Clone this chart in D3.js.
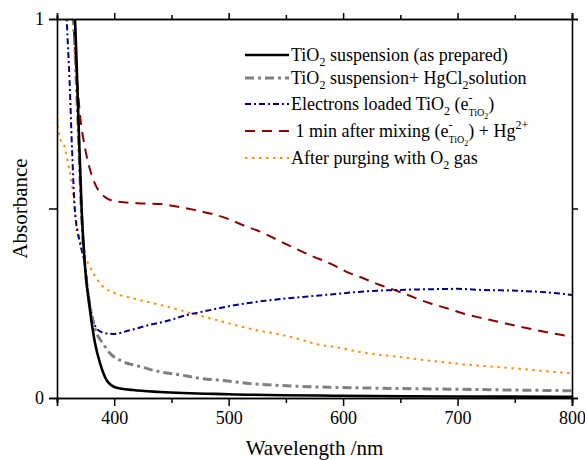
<!DOCTYPE html>
<html>
<head>
<meta charset="utf-8">
<script src="https://cdn.jsdelivr.net/npm/d3@7"></script>
<style>
  body { margin: 0; background: #fff; }
  svg { display: block; font-family: "Liberation Serif", "Times New Roman", serif; }
  .legend text { white-space: pre; }
</style>
</head>
<body>
<svg></svg>
<script>
const width = 585;
const height = 460;
const margin = { top: 19, right: 13, bottom: 62, left: 57 };

// Absorbance spectra: [wavelength nm, absorbance]
const asPrepared = [[364, 1.06], [365.7, 0.997], [368.6, 0.747], [371.6, 0.492], [374.5, 0.346], [378.8, 0.232],
  [383.2, 0.145], [387.6, 0.092], [393.4, 0.047], [402.2, 0.027], [416.4, 0.021], [440, 0.016], [500, 0.010],
  [600, 0.006], [700, 0.004], [800, 0.003]];
const withHgCl2 = [[362.5, 1.06], [364.2, 1.0], [368, 0.75], [371.5, 0.48], [375, 0.33], [378.8, 0.245],
  [381.6, 0.2], [385, 0.168], [389, 0.149], [396.3, 0.118], [407.9, 0.096], [422.5, 0.083], [440, 0.069],
  [457.5, 0.061], [475, 0.052], [495.3, 0.046], [515.8, 0.039], [539, 0.034], [568.2, 0.030], [594.4, 0.028],
  [650, 0.025], [700, 0.023], [750, 0.021], [800, 0.019]];
const electronsLoaded = [[357.5, 1.06], [358.6, 0.99], [361, 0.835], [363.1, 0.66], [365.7, 0.492], [370, 0.41],
  [374.5, 0.35], [378, 0.26], [385, 0.182], [390.5, 0.172], [399.2, 0.169], [413.8, 0.179], [431.3, 0.193],
  [445.9, 0.203], [463.3, 0.219], [480.8, 0.230], [498.3, 0.241], [515.8, 0.250], [539, 0.259], [562.3, 0.266],
  [591.4, 0.274], [618, 0.281], [647, 0.285], [676, 0.287], [700, 0.288], [722, 0.285], [751.7, 0.283],
  [781, 0.278], [800, 0.272]];
const afterMixing = [[363, 1.06], [365.7, 0.923], [370.1, 0.747], [374.5, 0.66], [380.3, 0.588], [386.1, 0.548],
  [392, 0.530], [399.2, 0.520], [420, 0.514], [440, 0.512], [454.6, 0.505], [469, 0.497], [483.7, 0.487],
  [498.3, 0.474], [512.5, 0.456], [527.4, 0.439], [542, 0.418], [556.5, 0.397], [574, 0.373], [588.5, 0.355],
  [603, 0.333], [617.6, 0.316], [632.2, 0.298], [646.8, 0.283], [661.3, 0.266], [675.9, 0.250], [690.5, 0.237],
  [705, 0.223], [722.5, 0.210], [737.1, 0.200], [751.7, 0.190], [769.2, 0.179], [783.7, 0.170], [800, 0.162]];
const afterO2 = [[350, 0.83], [350.6, 0.72], [352.6, 0.686], [357, 0.66], [359.9, 0.615], [362.2, 0.58],
  [364.2, 0.536], [365.7, 0.492], [373, 0.39], [381.7, 0.33], [390, 0.295], [399.2, 0.278], [416.6, 0.263],
  [434, 0.250], [451.5, 0.237], [469, 0.222], [486.5, 0.208], [504, 0.194], [521.5, 0.181], [542, 0.169],
  [559.5, 0.157], [577, 0.142], [594.4, 0.134], [611.9, 0.123], [629.4, 0.115], [646.8, 0.109], [665.7, 0.102],
  [683.2, 0.096], [702, 0.090], [719.6, 0.085], [737.1, 0.081], [754.6, 0.077], [772, 0.072], [791, 0.067],
  [800, 0.065]];

const xMajor = [400, 500, 600, 700, 800];
const xMinor = [350, 450, 550, 650, 750];
const yTicks = [0, 0.5, 1];
const yLabels = { 0: "0", 1: "1" };

// legend text: [text, "n" normal | "sub" | "sup" | "ssub" (sub under a sup) | "s2" (sub of sub)]
const series = [
  { data: asPrepared, color: "#000000", width: 2.6, dash: null,
    label: [["TiO", "n"], ["2", "sub"], [" suspension (as prepared)", "n"]] },
  { data: withHgCl2, color: "#808080", width: 3, dash: "9,4,3,4",
    label: [["TiO", "n"], ["2", "sub"], [" suspension+ HgCl", "n"], ["2", "sub"], ["solution", "n"]] },
  { data: electronsLoaded, color: "#00008b", width: 2, dash: "6,3,2,3",
    label: [["Electrons loaded TiO", "n"], ["2", "sub"], [" (e", "n"], ["-", "sup"], ["TiO", "ssub"], ["2", "s2"], [")", "n"]] },
  { data: afterMixing, color: "#8b0000", width: 2, dash: "10,7",
    label: [[" 1 min after mixing (e", "n"], ["-", "sup"], ["TiO", "ssub"], ["2", "s2"], [") + Hg", "n"], ["2+", "sup"]] },
  { data: afterO2, color: "#ff8c00", width: 2, dash: "2.5,4.5",
    label: [["After purging with O", "n"], ["2", "sub"], [" gas", "n"]] }
];

const svg = d3.select("svg").attr("width", width).attr("height", height);

const x = d3.scaleLinear().domain([350, 800]).range([margin.left, width - margin.right]);
const y = d3.scaleLinear().domain([0, 1]).range([height - margin.bottom, margin.top]);

svg.append("clipPath").attr("id", "plot-clip")
  .append("rect")
  .attr("x", margin.left).attr("y", margin.top)
  .attr("width", width - margin.left - margin.right)
  .attr("height", height - margin.top - margin.bottom);

const line = d3.line()
  .x(d => x(d[0]))
  .y(d => y(d[1]))
  .curve(d3.curveMonotoneX);

// draw in reverse so the black curve sits on top
svg.append("g").attr("clip-path", "url(#plot-clip)")
  .selectAll("path")
  .data(series.slice().reverse())
  .join("path")
  .attr("d", d => line(d.data))
  .attr("fill", "none")
  .attr("stroke", d => d.color)
  .attr("stroke-width", d => d.width)
  .attr("stroke-dasharray", d => d.dash);

// axes
const bottomAxis = svg.append("g").attr("transform", `translate(0,${height - margin.bottom})`);
bottomAxis.call(d3.axisBottom(x).tickValues(xMajor).tickSize(8).tickPadding(5).tickFormat(d3.format("d")));
bottomAxis.append("g").call(d3.axisBottom(x).tickValues(xMinor).tickSize(5).tickFormat(""));

const topAxis = svg.append("g").attr("transform", `translate(0,${margin.top})`);
topAxis.call(d3.axisTop(x).tickValues(xMajor).tickSize(6).tickFormat(""));
topAxis.append("g").call(d3.axisTop(x).tickValues(xMinor).tickSize(4).tickFormat(""));

svg.append("g").attr("transform", `translate(${margin.left},0)`)
  .call(d3.axisLeft(y).tickValues(yTicks).tickSize(8).tickPadding(5).tickFormat(d => yLabels[d] || ""));

svg.append("g").attr("transform", `translate(${width - margin.right},0)`)
  .call(d3.axisRight(y).tickValues(yTicks).tickSize(6).tickFormat(""));

svg.selectAll(".domain").attr("stroke", "#000").attr("stroke-width", 1.6);
svg.selectAll(".tick line").attr("stroke", "#000").attr("stroke-width", 1.5);
svg.selectAll(".tick text")
  .attr("font-family", "Liberation Serif, serif")
  .attr("font-size", 18)
  .attr("fill", "#000");

// axis titles
svg.append("text")
  .attr("x", (margin.left + width - margin.right) / 2)
  .attr("y", 455)
  .attr("text-anchor", "middle")
  .attr("font-size", 21)
  .text("Wavelength /nm");

svg.append("text")
  .attr("transform", `translate(27,${(margin.top + height - margin.bottom) / 2}) rotate(-90)`)
  .attr("text-anchor", "middle")
  .attr("font-size", 21)
  .text("Absorbance");

// legend
const legendRows = [55, 78, 104, 131, 158];
const legend = svg.append("g").attr("class", "legend");

const shift = { n: 0, sub: 5, sup: -8, ssub: 6, s2: 9 };
const size = { n: 18, sub: 12, sup: 12, ssub: 10, s2: 8 };

series.forEach((s, i) => {
  const row = legend.append("g").attr("transform", `translate(0,${legendRows[i]})`);
  row.append("line")
    .attr("x1", 245).attr("x2", 289)
    .attr("stroke", s.color)
    .attr("stroke-width", s.width)
    .attr("stroke-dasharray", s.dash);

  const text = row.append("text").attr("x", 291).attr("y", 6).attr("font-size", 18);
  let current = 0;
  let lastSupWidth = 0;
  s.label.forEach(([t, kind]) => {
    const ts = text.append("tspan")
      .attr("dy", shift[kind] - current)
      .attr("font-size", size[kind])
      .text(t);
    if (kind === "ssub" && lastSupWidth) ts.attr("dx", -lastSupWidth);
    lastSupWidth = kind === "sup" ? ts.node().getComputedTextLength() : 0;
    current = shift[kind];
  });
});
</script>
</body>
</html>
